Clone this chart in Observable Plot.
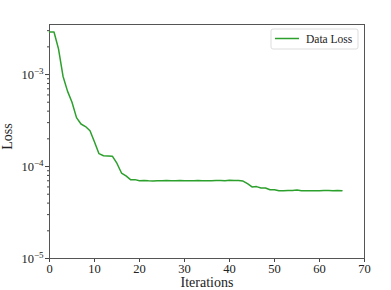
<!DOCTYPE html>
<html>
<head>
<meta charset="utf-8">
<script src="https://cdn.jsdelivr.net/npm/d3@7"></script>
<script src="https://cdn.jsdelivr.net/npm/@observablehq/plot@0.6"></script>
<style>
  html, body { margin: 0; padding: 0; background: #fff; }
  #chart svg { font-family: "Liberation Serif", "Times New Roman", serif; }
</style>
</head>
<body>
<div id="chart"></div>
<script>
const iterations = d3.range(0, 66);
const dataLoss = [
  2.9e-3, 2.9e-3, 1.9e-3, 9.6e-4, 6.6e-4, 5.0e-4, 3.4e-4, 2.9e-4, 2.72e-4, 2.45e-4,
  1.85e-4, 1.38e-4, 1.31e-4, 1.3e-4, 1.29e-4, 1.08e-4, 8.5e-5, 7.9e-5, 7.2e-5, 7.2e-5,
  7.0e-5, 7.05e-5, 7.0e-5, 6.98e-5, 7.0e-5, 7.02e-5, 7.05e-5, 7.0e-5, 7.02e-5, 7.05e-5,
  7.02e-5, 7.0e-5, 7.02e-5, 7.05e-5, 7.02e-5, 7.0e-5, 7.02e-5, 7.05e-5, 7.05e-5, 7.02e-5,
  7.1e-5, 7.05e-5, 7.05e-5, 6.95e-5, 6.5e-5, 6.0e-5, 6.05e-5, 5.85e-5, 5.85e-5, 5.6e-5,
  5.6e-5, 5.45e-5, 5.45e-5, 5.5e-5, 5.5e-5, 5.55e-5, 5.45e-5, 5.45e-5, 5.45e-5, 5.45e-5,
  5.45e-5, 5.47e-5, 5.47e-5, 5.45e-5, 5.47e-5, 5.45e-5
];
const seriesName = "Data Loss";
const xLabel = "Iterations";
const yLabel = "Loss";
const xTicks = [0, 10, 20, 30, 40, 50, 60, 70];
const yMajorTicks = [1e-5, 1e-4, 1e-3];
const yMinorTicks = [2,3,4,5,6,7,8,9].flatMap(m => [m * 1e-5, m * 1e-4, m * 1e-3]).filter(v => v <= 3.5e-3);

const rows = iterations.map((it, i) => ({it, loss: dataLoss[i]}));
const fmtPow = v => "10^" + Math.round(Math.log10(v));

const W = 391, H = 290;
const plot = Plot.plot({
  width: W,
  height: H,
  marginLeft: 49,
  marginRight: 27,
  marginTop: 24,
  marginBottom: 32,
  style: {fontFamily: "Liberation Serif, Times New Roman, serif", fontSize: "12px", color: "#222"},
  x: {domain: [0, 70], label: null},
  y: {type: "log", domain: [1e-5, 3.5e-3], label: null},
  marks: [
    Plot.axisY({ticks: yMinorTicks, tickSize: 2, tickFormat: () => "", stroke: "#444"}),
    Plot.axisY({ticks: yMajorTicks, tickSize: 4, tickFormat: fmtPow, tickPadding: 2, fontSize: 12.5, stroke: "#444"}),
    Plot.axisX({ticks: xTicks, tickSize: 4, tickFormat: d3.format("d"), tickPadding: 2, fontSize: 12.5, stroke: "#444"}),
    Plot.frame({stroke: "#555", strokeWidth: 1}),
    Plot.line(rows, {x: "it", y: "loss", stroke: "#2ca02c", strokeWidth: 1.5}),
    Plot.text([xLabel], {frameAnchor: "bottom", lineAnchor: "middle", textAnchor: "middle", dy: 24, fontSize: 14, fill: "#222"}),
    Plot.text([yLabel], {frameAnchor: "left", lineAnchor: "middle", textAnchor: "middle", dx: -42, dy: -5, rotate: -90, fontSize: 14, fill: "#222"})
  ]
});

const svg = d3.select(plot);
// Superscript exponents on the log tick labels
svg.selectAll("text").each(function() {
  const t = d3.select(this);
  const m = /^10\^(-?\d+)$/.exec(t.text());
  if (!m) return;
  t.text("10");
  t.append("tspan").attr("dy", "-0.45em").attr("font-size", "0.72em")
    .text(m[1].replace("-", "\u2212"));
});

// Legend in the upper right of the frame
const fr = {right: W - 27, top: 24};
const lg = svg.append("g").attr("transform", `translate(${fr.right - 93},${fr.top + 5})`);
lg.append("rect").attr("width", 87).attr("height", 20).attr("rx", 2)
  .attr("fill", "white").attr("stroke", "#ddd").attr("stroke-width", 1);
lg.append("line").attr("x1", 4).attr("x2", 28).attr("y1", 9.5).attr("y2", 9.5)
  .attr("stroke", "#2ca02c").attr("stroke-width", 1.5);
lg.append("text").attr("x", 35).attr("y", 14).attr("font-size", 11.5).attr("fill", "#222")
  .attr("text-anchor", "start").text(seriesName);

document.getElementById("chart").appendChild(plot);
</script>
</body>
</html>
